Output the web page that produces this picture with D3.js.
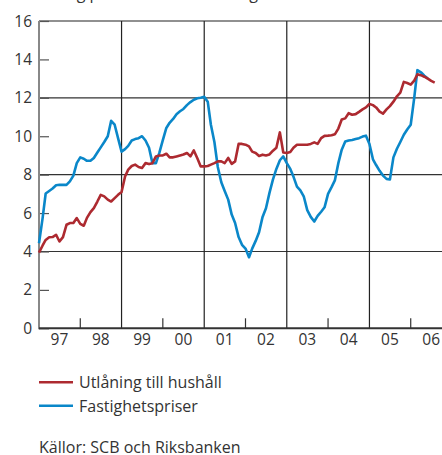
<!DOCTYPE html>
<html>
<head>
<meta charset="utf-8">
<script src="https://cdn.jsdelivr.net/npm/d3@7"></script>
<style>
  body { margin: 0; background: #fff; }
  svg { display: block; font-family: "Open Sans", sans-serif; }
</style>
</head>
<body>
<svg id="chart" width="442" height="455"></svg>
<script>
// monthly values, first month Jan 1997
var startMonth = new Date(1997, 0, 1);

var lending = [
  3.94, 4.3, 4.6, 4.74, 4.75, 4.87, 4.52, 4.75, 5.39, 5.48, 5.48, 5.74,
  5.44, 5.34, 5.75, 6.05, 6.26, 6.6, 6.95, 6.87, 6.7, 6.6, 6.78, 6.95,
  7.1, 7.9, 8.26, 8.45, 8.52, 8.4, 8.35, 8.6, 8.55, 8.6, 8.95, 9.0,
  9.0, 9.09, 8.9, 8.9, 8.95, 9.0, 9.05, 9.13, 8.95, 9.26, 8.85, 8.43,
  8.43, 8.45, 8.52, 8.6, 8.69, 8.69, 8.6, 8.87, 8.56, 8.69, 9.6, 9.6,
  9.56, 9.47, 9.2, 9.13, 8.97, 9.04, 9.0, 9.05, 9.25, 9.4, 10.2, 9.15,
  9.13, 9.18, 9.4, 9.56, 9.56, 9.56, 9.56, 9.6, 9.68, 9.6, 9.9, 10.02,
  10.03, 10.05, 10.1, 10.4, 10.87, 10.93, 11.2, 11.12, 11.15, 11.27, 11.4, 11.5,
  11.68, 11.62, 11.5, 11.28, 11.18, 11.4, 11.57, 11.8, 12.08, 12.27, 12.83, 12.77,
  12.69, 12.9, 13.22, 13.18, 13.1, 13.0, 12.88, 12.79
];

var housePrices = [
  4.43, 5.7, 7.02, 7.15, 7.28, 7.45, 7.47, 7.47, 7.47, 7.65, 7.95, 8.6,
  8.9, 8.83, 8.72, 8.72, 8.87, 9.15, 9.42, 9.7, 10.0, 10.8, 10.6, 9.9,
  9.2, 9.33, 9.5, 9.78, 9.85, 9.9, 10.0, 9.78, 9.4, 8.6, 8.6, 9.13,
  9.8, 10.43, 10.7, 10.9, 11.15, 11.3, 11.42, 11.62, 11.78, 11.9, 11.98, 12.0,
  12.05, 11.8, 10.6, 9.7, 8.4, 7.6, 7.15, 6.7, 5.92, 5.48, 4.75, 4.35,
  4.15, 3.7, 4.15, 4.55, 5.0, 5.8, 6.25, 7.05, 7.75, 8.3, 8.75, 8.95,
  8.6, 8.3, 7.9, 7.38, 7.18, 6.85, 6.15, 5.8, 5.56, 5.85, 6.07, 6.3,
  7.0, 7.35, 7.7, 8.6, 9.3, 9.73, 9.78, 9.8, 9.85, 9.9, 9.98, 10.03,
  9.6, 8.8, 8.5, 8.2, 7.95, 7.78, 7.75, 8.9, 9.35, 9.7, 10.08, 10.35,
  10.6, 12.0, 13.44, 13.33, 13.15, 13.0
];

var yearLabels = ["97", "98", "99", "00", "01", "02", "03", "04", "05", "06"];
var yTicks = [0, 2, 4, 6, 8, 10, 12, 14, 16];
var yGrid = [4, 8, 12];
var seriesNames = ["Utlåning till hushåll", "Fastighetspriser"];
var colors = ["#ad2a30", "#0a87c9"];
var title = "Årlig procentuell förändring";
var source = "Källor: SCB och Riksbanken";

(function () {
  var svg = d3.select("#chart");
  var left = 39, right = 452, plotTop = 21, plotBottom = 328.3;

  var x = d3.scaleTime()
    .domain([new Date(1997, 0, 1), new Date(2007, 0, 1)])
    .range([left, right]);
  var y = d3.scaleLinear().domain([0, 16]).range([plotBottom, plotTop]);

  function toPoints(vals) {
    return vals.map(function (v, i) {
      return { date: d3.timeMonth.offset(startMonth, i), value: v };
    });
  }

  // heading, cut off at the very top as in the source
  svg.append("text")
    .attr("x", 52).attr("y", -1)
    .attr("font-size", 16).attr("fill", "#333")
    .text(title);

  // horizontal grid lines
  svg.append("g").selectAll("line")
    .data(yGrid).enter().append("line")
    .attr("x1", left).attr("x2", right)
    .attr("y1", function (d) { return y(d); })
    .attr("y2", function (d) { return y(d); })
    .attr("stroke", "#333").attr("stroke-width", 1.2);

  // vertical grid lines at odd years
  var gridYears = [1999, 2001, 2003, 2005];
  svg.append("g").selectAll("line")
    .data(gridYears).enter().append("line")
    .attr("x1", function (d) { return x(new Date(d, 0, 1)); })
    .attr("x2", function (d) { return x(new Date(d, 0, 1)); })
    .attr("y1", plotTop).attr("y2", plotBottom)
    .attr("stroke", "#222").attr("stroke-width", 1.2);

  // top border and right border
  svg.append("line").attr("x1", left).attr("x2", right)
    .attr("y1", plotTop).attr("y2", plotTop).attr("stroke", "#222").attr("stroke-width", 1.2);
  svg.append("line").attr("x1", right).attr("x2", right)
    .attr("y1", plotTop).attr("y2", plotBottom).attr("stroke", "#888").attr("stroke-width", 2);

  // left axis, ticks pointing inward
  var yAxis = d3.axisRight(y).tickValues(yTicks).tickSize(10).tickFormat("");
  var gy = svg.append("g").attr("transform", "translate(" + left + ",0)").call(yAxis);
  gy.select(".domain").remove();
  gy.selectAll(".tick line").attr("stroke", "#555").attr("stroke-width", 1.2);

  svg.append("g").selectAll("text")
    .data(yTicks).enter().append("text")
    .attr("x", 32).attr("y", function (d) { return y(d); })
    .attr("dy", "0.36em").attr("text-anchor", "end")
    .attr("font-size", 15.5).attr("fill", "#333")
    .text(function (d) { return d; });

  // right axis ticks
  var yAxisR = d3.axisLeft(y).tickValues(yTicks).tickSize(10).tickFormat("");
  var gyr = svg.append("g").attr("transform", "translate(" + right + ",0)").call(yAxisR);
  gyr.select(".domain").remove();
  gyr.selectAll(".tick line").attr("stroke", "#777").attr("stroke-width", 1.2);

  // bottom ticks at even years
  var tickYears = [1998, 2000, 2002, 2004, 2006];
  svg.append("g").selectAll("line")
    .data(tickYears).enter().append("line")
    .attr("x1", function (d) { return x(new Date(d, 0, 1)); })
    .attr("x2", function (d) { return x(new Date(d, 0, 1)); })
    .attr("y1", plotBottom - 10).attr("y2", plotBottom)
    .attr("stroke", "#333").attr("stroke-width", 1.2);

  // year labels centred on each year
  svg.append("g").selectAll("text")
    .data(yearLabels).enter().append("text")
    .attr("x", function (d, i) { return x(new Date(1997 + i, 6, 1)); })
    .attr("y", 345).attr("text-anchor", "middle")
    .attr("font-size", 15.5).attr("fill", "#333")
    .text(function (d) { return d; });

  // axis lines
  svg.append("line").attr("x1", left).attr("x2", left)
    .attr("y1", plotTop).attr("y2", plotBottom + 1)
    .attr("stroke", "#888").attr("stroke-width", 2);
  svg.append("line").attr("x1", left).attr("x2", right)
    .attr("y1", plotBottom).attr("y2", plotBottom)
    .attr("stroke", "#333").attr("stroke-width", 2);

  // series
  var line = d3.line()
    .x(function (d) { return x(d.date); })
    .y(function (d) { return y(d.value); });

  [housePrices, lending].forEach(function (vals) {
    var idx = vals === lending ? 0 : 1;
    svg.append("path")
      .datum(toPoints(vals))
      .attr("fill", "none")
      .attr("stroke", colors[idx])
      .attr("stroke-width", 2.6)
      .attr("stroke-linejoin", "round")
      .attr("d", line);
  });

  // legend
  var legend = svg.append("g").selectAll("g")
    .data(seriesNames).enter().append("g")
    .attr("transform", function (d, i) { return "translate(39," + (382.3 + i * 23.4) + ")"; });
  legend.append("line")
    .attr("x1", 0).attr("x2", 34)
    .attr("stroke", function (d, i) { return colors[i]; })
    .attr("stroke-width", 2.6);
  legend.append("text")
    .attr("x", 40).attr("y", 6)
    .attr("font-size", 16).attr("fill", "#333")
    .text(function (d) { return d; });

  svg.append("text")
    .attr("x", 39).attr("y", 453)
    .attr("font-size", 16).attr("fill", "#333")
    .text(source);
})();
</script>
</body>
</html>
